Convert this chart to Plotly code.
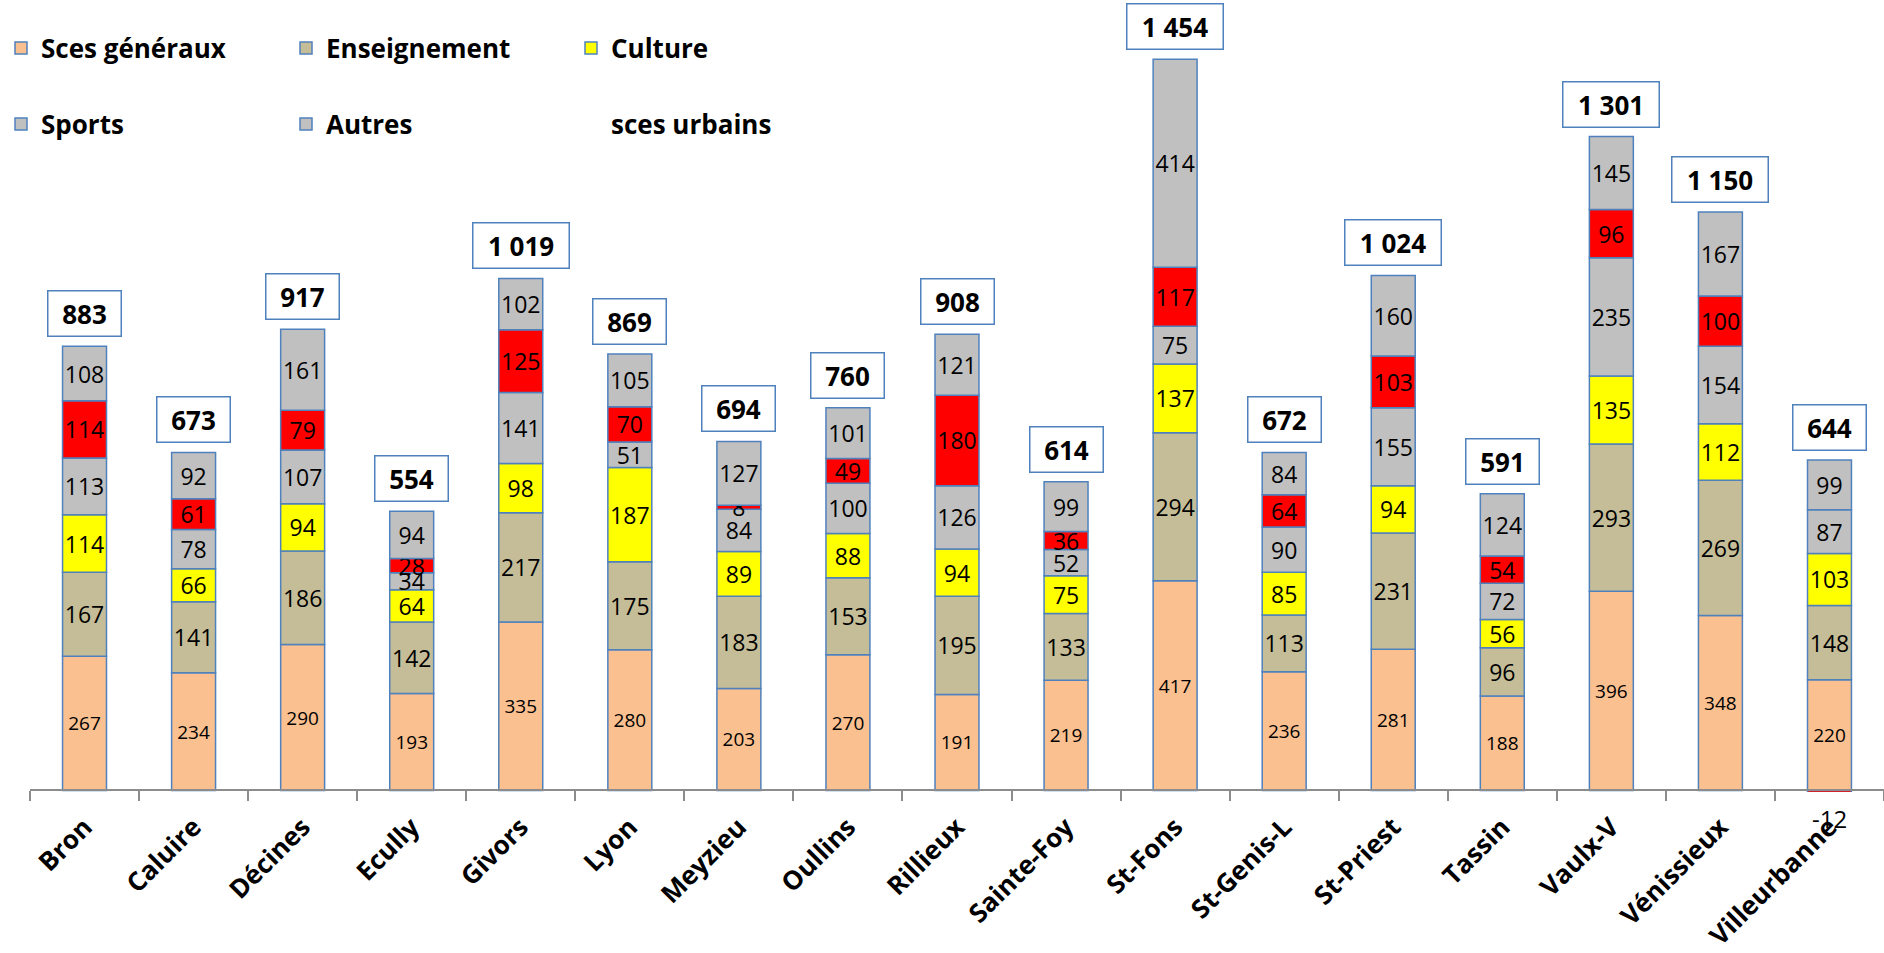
import plotly.graph_objects as go

cities = ["Bron", "Caluire", "Décines", "Ecully", "Givors", "Lyon", "Meyzieu", "Oullins",
          "Rillieux", "Sainte-Foy", "St-Fons", "St-Genis-L", "St-Priest", "Tassin",
          "Vaulx-V", "Vénissieux", "Villeurbanne"]
sces_generaux = [267, 234, 290, 193, 335, 280, 203, 270, 191, 219, 417, 236, 281, 188, 396, 348, 220]
enseignement = [167, 141, 186, 142, 217, 175, 183, 153, 195, 133, 294, 113, 231, 96, 293, 269, 148]
culture = [114, 66, 94, 64, 98, 187, 89, 88, 94, 75, 137, 85, 94, 56, 135, 112, 103]
sports = [113, 78, 107, 34, 141, 51, 84, 100, 126, 52, 75, 90, 155, 72, 235, 154, 87]
sces_urbains = [114, 61, 79, 28, 125, 70, 8, 49, 180, 36, 117, 64, 103, 54, 96, 100, -12]
autres = [108, 92, 161, 94, 102, 105, 127, 101, 121, 99, 414, 84, 160, 124, 145, 167, 99]
totals = [883, 673, 917, 554, 1019, 869, 694, 760, 908, 614, 1454, 672, 1024, 591, 1301, 1150, 644]

names = ["Sces généraux", "Enseignement", "Culture", "Sports", "sces urbains", "Autres"]

EDGE = "#4F81BD"
FONT = "Open Sans"
W, H = 1884, 953
ML, MR, MT, MB = 30, 0, 0, 161
PXU = 0.503                      # pixels per unit on the value axis
YMIN = -3
plot_h = H - MT - MB
plot_w = W - ML - MR
YMAX = YMIN + plot_h / PXU

fig = go.Figure()

def add_series(vals, name, color, legend, showlegend, size, **kw):
    fig.add_trace(go.Bar(
        x=cities, y=vals, name=name,
        marker=dict(color=color, line=dict(color=EDGE, width=1.5)),
        text=[str(v) if v >= 0 else "" for v in vals],
        textposition="inside",
        textangle=0, constraintext="none", insidetextanchor="middle",
        textfont=dict(family=FONT, size=size, color="black"),
        legend=legend, showlegend=showlegend, **kw))

add_series(sces_generaux, names[0], "#FAC090", "legend", True, 19)
add_series(enseignement, names[1], "#C4BD97", "legend", True, 23)
add_series(culture, names[2], "#FFFF00", "legend", True, 23)
add_series(sports, names[3], "#C0C0C0", "legend2", True, 23)
add_series(sces_urbains, names[4], "#FF0000", "legend2", False, 23)
add_series(autres, names[5], "#C0C0C0", "legend2", True, 23)
# legend entry for "sces urbains" shown without a colour key, as in the source
fig.add_trace(go.Bar(x=[None], y=[None], name=names[4],
                     marker=dict(color="rgba(0,0,0,0)", line=dict(width=0)),
                     legend="legend2", hoverinfo="skip"))

series_all = [sces_generaux, enseignement, culture, sports, sces_urbains, autres]
annotations = []
for i, c in enumerate(cities):
    top = sum(s[i] for s in series_all if s[i] > 0)
    label = f"{totals[i]:,}".replace(",", " ")
    annotations.append(dict(
        x=c, y=top, xref="x", yref="y", yanchor="bottom", yshift=9,
        text=f"<b>{label}</b>", showarrow=False,
        font=dict(family=FONT, size=26, color="black"),
        bgcolor="white", bordercolor=EDGE, borderwidth=1.5, borderpad=1,
        width=70 if len(label) <= 3 else 93, height=42))
    # negative segment labels sit just below the category axis
    for s in series_all:
        if s[i] < 0:
            annotations.append(dict(
                x=c, y=0, xref="x", yref="y", yanchor="top", yshift=-10,
                text=str(s[i]), showarrow=False,
                font=dict(family=FONT, size=24, color="black")))

legend_style = dict(orientation="h", xanchor="left", yanchor="middle",
                    x=(1 - ML) / plot_w, entrywidth=240, entrywidthmode="pixels",
                    font=dict(family=FONT, size=26, color="black", weight="bold"),
                    bgcolor="rgba(0,0,0,0)", borderwidth=0, traceorder="normal")

fig.update_layout(
    width=W, height=H,
    margin=dict(l=ML, r=MR, t=MT, b=MB, pad=0),
    paper_bgcolor="white", plot_bgcolor="white",
    barmode="relative", bargap=0.597,
    showlegend=True,
    legend=dict(legend_style, y=1 - 48 / plot_h),
    legend2=dict(legend_style, y=1 - 124 / plot_h),
    xaxis=dict(type="category", anchor="free", position=(0 - YMIN) / (YMAX - YMIN),
               showline=True, linecolor="#8C8C8C", linewidth=2,
               ticks="outside", ticklen=10, tickwidth=1.5, tickcolor="#8C8C8C",
               tickson="boundaries", tickangle=-45, showgrid=False,
               ticklabelstandoff=10,
               tickfont=dict(family=FONT, size=26, color="black", weight="bold"),
               automargin=False),
    yaxis=dict(range=[YMIN, YMAX], visible=False, showgrid=False, zeroline=False,
               automargin=False),
    annotations=annotations,
)

fig.write_html("out.html", config={"displayModeBar": False},
               post_script="document.body.style.margin='0';document.body.style.overflow='hidden';")
